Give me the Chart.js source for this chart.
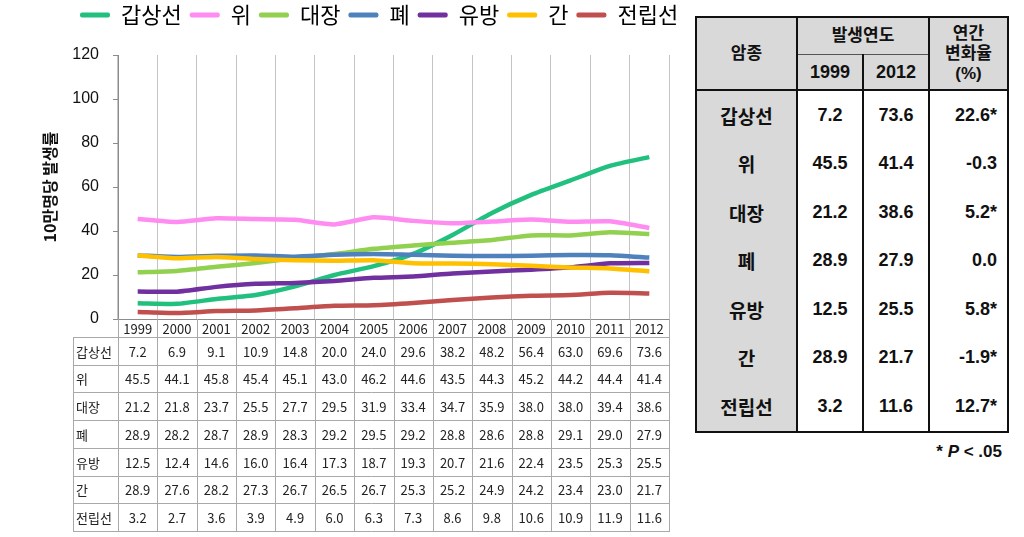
<!DOCTYPE html>
<html><head><meta charset="utf-8">
<script src="https://cdn.jsdelivr.net/npm/chart.js@4.4.1/dist/chart.umd.min.js"></script>
<style>
html,body{margin:0;padding:0;background:#fff;}
body{width:1024px;height:537px;overflow:hidden;position:relative;font-family:"Liberation Sans","Noto Sans CJK KR",sans-serif;}
#wrap{position:absolute;left:0;top:0;width:690px;height:537px;}
#rt{position:absolute;left:695px;top:16px;width:312px;border-collapse:collapse;table-layout:fixed;border:2px solid #111;font-weight:bold;color:#111;}
#rt th,#rt td{border-left:2px solid #111;border-right:2px solid #111;padding:0;text-align:center;}
#rt th{background:#d9d9d9;font-size:17px;line-height:20px;}
#rt th.yr{font-size:18px;}
#rt thead tr:last-child th, #rt th.tall{border-bottom:2px solid #111;}
#rt th.sub{border-bottom:1px solid #555;}
#rt td{font-size:18px;height:48.5px;}
#rt td.lab{background:#d9d9d9;font-size:19px;}
#rt td.apc{text-align:right;padding-right:10px;}
#note{position:absolute;right:22px;top:442px;font-size:17px;font-weight:bold;color:#111;}
</style>
</head><body>
<div id="wrap"><canvas id="c"></canvas></div>
<table id="rt">
<colgroup><col style="width:101px"><col style="width:66px"><col style="width:66px"><col style="width:79px"></colgroup>
<thead>
<tr style="height:37px"><th rowspan="2" class="tall" id="h0"></th><th colspan="2" class="sub" id="h1"></th><th rowspan="2" class="tall" id="h2"></th></tr>
<tr style="height:36px"><th class="yr" id="h3"></th><th class="yr" id="h4"></th></tr>
</thead>
<tbody id="rtb"></tbody>
</table>
<div id="note">* <i>P</i> &lt; .05</div>
<script>
// ---- data ----
const years = ['1999','2000','2001','2002','2003','2004','2005','2006','2007','2008','2009','2010','2011','2012'];
const seriesNames = ['갑상선','위','대장','폐','유방','간','전립선'];
const thyroid    = [7.2,6.9,9.1,10.9,14.8,20.0,24.0,29.6,38.2,48.2,56.4,63.0,69.6,73.6];
const stomach    = [45.5,44.1,45.8,45.4,45.1,43.0,46.2,44.6,43.5,44.3,45.2,44.2,44.4,41.4];
const colorectal = [21.2,21.8,23.7,25.5,27.7,29.5,31.9,33.4,34.7,35.9,38.0,38.0,39.4,38.6];
const lung       = [28.9,28.2,28.7,28.9,28.3,29.2,29.5,29.2,28.8,28.6,28.8,29.1,29.0,27.9];
const breast     = [12.5,12.4,14.6,16.0,16.4,17.3,18.7,19.3,20.7,21.6,22.4,23.5,25.3,25.5];
const liver      = [28.9,27.6,28.2,27.3,26.7,26.5,26.7,25.3,25.2,24.9,24.2,23.4,23.0,21.7];
const prostate   = [3.2,2.7,3.6,3.9,4.9,6.0,6.3,7.3,8.6,9.8,10.6,10.9,11.9,11.6];
const yTicks = [0,20,40,60,80,100,120];
const yTitle = '10만명당 발생률';
const tableHead = ['암종','발생연도','연간<br>변화율<br>(%)','1999','2012'];
const rate1999 = ['7.2','45.5','21.2','28.9','12.5','28.9','3.2'];
const rate2012 = ['73.6','41.4','38.6','27.9','25.5','21.7','11.6'];
const annualChange = ['22.6*','-0.3','5.2*','0.0','5.8*','-1.9*','12.7*'];

const seriesValues = [thyroid, stomach, colorectal, lung, breast, liver, prostate];
const colors = ['#21c07f','#ff8cf0','#92d050','#4f81bd','#7030a0','#ffc000','#c0504d'];

// ---- right table ----
['h0','h1','h2','h3','h4'].forEach((id,i)=>document.getElementById(id).innerHTML = tableHead[i]);
const tb = document.getElementById('rtb');
seriesNames.forEach((n,i)=>{
  const tr = document.createElement('tr');
  tr.innerHTML = `<td class="lab">${n}</td><td>${rate1999[i]}</td><td>${rate2012[i]}</td><td class="apc">${annualChange[i]}</td>`;
  tb.appendChild(tr);
});

// ---- plugins ----
const legendShift = {
  id:'legendShift',
  afterLayout(chart){
    const l = chart.legend;
    if (l) {
      const w = l.right - l.left, h = l.bottom - l.top;
      l.left = 80 - l.options.labels.padding; l.right = l.left + w;
      l.top = l.top - 19; l.bottom = l.top + h;
    }
  }
};
const dataTable = {
  id:'dataTable',
  afterDraw(chart){
    const ctx = chart.ctx, xs = chart.scales.x, area = chart.chartArea;
    const n = years.length;
    const half = (xs.getPixelForValue(1) - xs.getPixelForValue(0)) / 2;
    const left = xs.getPixelForValue(0) - half;
    const top = area.bottom, headH = 18, rowH = 27.7, labelLeft = 73;
    const bottom = top + headH + seriesNames.length * rowH;
    const right = xs.getPixelForValue(n-1) + half;
    ctx.save();
    ctx.strokeStyle = '#a9a9a9'; ctx.lineWidth = 1;
    ctx.beginPath();
    for (let i = 0; i <= n; i++) {
      const x = Math.round(left + i * 2 * half) + 0.5;
      ctx.moveTo(x, top); ctx.lineTo(x, Math.round(bottom));
    }
    ctx.moveTo(labelLeft + 0.5, top + headH); ctx.lineTo(labelLeft + 0.5, Math.round(bottom));
    for (let r = 0; r <= seriesNames.length; r++) {
      const y = Math.round(top + headH + r * rowH) + 0.5;
      ctx.moveTo(labelLeft, y); ctx.lineTo(Math.round(right) + 1, y);
    }
    ctx.stroke();
    ctx.fillStyle = '#222';
    ctx.font = '13px "Noto Sans CJK KR", sans-serif';
    ctx.textBaseline = 'middle';
    ctx.textAlign = 'center';
    years.forEach((y,i)=> ctx.fillText(y, xs.getPixelForValue(i), top + headH/2 + 1));
    seriesNames.forEach((name,r)=>{
      const cy = top + headH + r*rowH + rowH/2 + 1;
      ctx.textAlign = 'left';
      ctx.fillText(name, labelLeft + 3, cy);
      ctx.textAlign = 'center';
      seriesValues[r].forEach((v,i)=> ctx.fillText(v.toFixed(1), xs.getPixelForValue(i), cy));
    });
    ctx.restore();
  }
};

new Chart(document.getElementById('c'), {
  type:'line',
  data:{
    labels: years,
    datasets: seriesNames.map((name,i)=>({
      label: name,
      data: seriesValues[i],
      borderColor: colors[i],
      backgroundColor: colors[i],
      borderWidth: 4.5,
      pointRadius: 0,
      tension: 0.2,
      order: -i
    }))
  },
  options:{
    responsive:true,
    maintainAspectRatio:false,
    animation:false,
    layout:{padding:{top:15,right:21,bottom:218,left:0}},
    plugins:{
      tooltip:{enabled:false},
      legend:{
        position:'top',
        align:'start',
        labels:{
          boxWidth:30,
          boxHeight:5,
          padding:8,
          color:'#111',
          font:{size:22, family:'"Noto Sans CJK KR", sans-serif'},
          generateLabels(chart){
            return chart.data.datasets.map((d,i)=>({
              text:d.label, fillStyle:d.borderColor, strokeStyle:d.borderColor,
              lineWidth:0, borderRadius:2, datasetIndex:i, hidden:false
            }));
          }
        }
      }
    },
    scales:{
      x:{
        type:'category',
        offset:true,
        grid:{offset:true, color:'#c4c4c4', drawTicks:false},
        border:{display:true, color:'#8c8c8c'},
        ticks:{display:false}
      },
      y:{
        min:0, max:120,
        afterBuildTicks(s){ s.ticks = yTicks.map(v=>({value:v})); },
        grid:{drawOnChartArea:false, drawTicks:true, tickLength:5, color:'#8c8c8c'},
        border:{display:true, color:'#8c8c8c'},
        ticks:{padding:14, color:'#111', font:{size:16, family:'"Liberation Sans", Arial, sans-serif'}},
        title:{display:true, text:yTitle, color:'#111', padding:{top:40,bottom:0},
               font:{size:16, weight:'bold', family:'"Noto Sans CJK KR", sans-serif'}},
        afterFit(s){ s.width = 118; }
      }
    }
  },
  plugins:[legendShift, dataTable]
});
</script>
</body></html>
